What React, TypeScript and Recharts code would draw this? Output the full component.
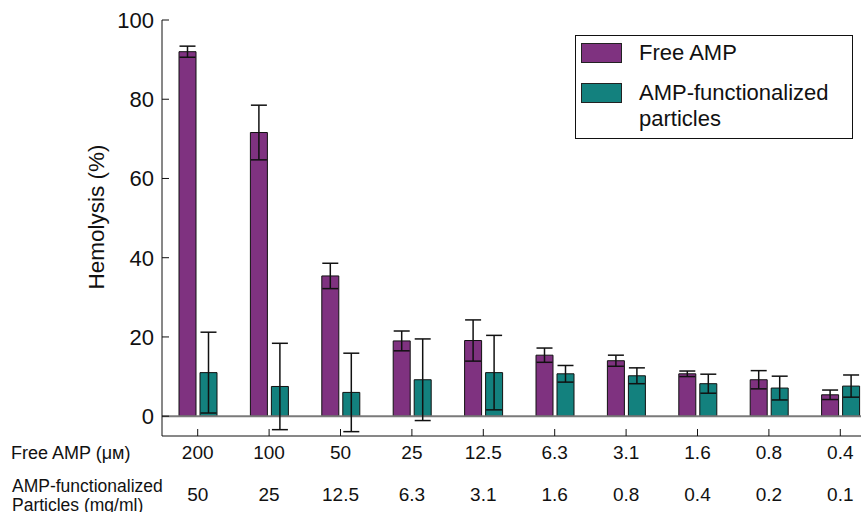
import React from 'react';
import { BarChart, Bar, XAxis, YAxis, ErrorBar, ReferenceLine, Customized } from 'recharts';

const freeAmpLabels = ['200', '100', '50', '25', '12.5', '6.3', '3.1', '1.6', '0.8', '0.4'];
const particleLabels = ['50', '25', '12.5', '6.3', '3.1', '1.6', '0.8', '0.4', '0.2', '0.1'];
const freeAmpValues = [92.0, 71.6, 35.4, 19.0, 19.1, 15.4, 14.0, 10.7, 9.2, 5.4];
const freeAmpErrors = [1.4, 6.9, 3.2, 2.5, 5.2, 1.8, 1.4, 0.7, 2.3, 1.2];
const particleValues = [11.0, 7.5, 6.0, 9.2, 11.0, 10.7, 10.2, 8.2, 7.1, 7.6];
const particleErrors = [10.2, 10.9, 9.9, 10.3, 9.4, 2.1, 2.0, 2.4, 3.0, 2.8];
const yTicks = [0, 20, 40, 60, 80, 100];

const seriesNames = ['Free AMP', 'AMP-functionalized particles'];
const seriesColors = ['#7f3280', '#13817e'];

const data = freeAmpLabels.map((c, i) => ({
  cat: c,
  free: freeAmpValues[i],
  freeErr: freeAmpErrors[i],
  part: particleValues[i],
  partErr: particleErrors[i],
}));

const FONT = '"Liberation Sans", Arial, sans-serif';

const BottomTick = (props: any) => {
  const { x, y, payload } = props;
  const i = payload.index;
  return (
    <g>
      <text x={x} y={y + 30} textAnchor="middle" fontSize={19} fill="#111" fontFamily={FONT}>
        {freeAmpLabels[i]}
      </text>
      <text x={x} y={y + 72} textAnchor="middle" fontSize={19} fill="#111" fontFamily={FONT}>
        {particleLabels[i]}
      </text>
    </g>
  );
};

const Extras = () => (
  <g fontFamily={FONT} fill="#111">
    <text x={11} y={459} fontSize={18}>Free AMP (μм)</text>
    <text x={12} y={492} fontSize={17.5}>AMP-functionalized</text>
    <text x={12} y={511} fontSize={17.5}>Particles (mg/ml)</text>
    <text x={104} y={217} fontSize={22.5} textAnchor="middle" transform="rotate(-90 104 217)">Hemolysis (%)</text>
    <rect x={575.5} y={35.5} width={277} height={103} fill="#fff" stroke="#111" strokeWidth={1} />
    <rect x={581.5} y={43.5} width={40} height={19} fill={seriesColors[0]} stroke="#222" strokeWidth={1} />
    <rect x={581.5} y={83.5} width={40} height={19} fill={seriesColors[1]} stroke="#222" strokeWidth={1} />
    <text x={639} y={60} fontSize={22}>{seriesNames[0]}</text>
    <text x={639} y={100} fontSize={22}>AMP-functionalized</text>
    <text x={639} y={126} fontSize={22}>particles</text>
  </g>
);

export default function App() {
  return (
    <div style={{ position: 'absolute', left: 0, top: 0, width: 861, height: 512, overflow: 'hidden', background: '#fff' }}>
      <BarChart
        width={876}
        height={512}
        data={data}
        margin={{ top: 20, right: 0, bottom: 0, left: 0 }}
        barSize={17}
        barGap={4}
      >
        <XAxis
          dataKey="cat"
          height={76}
          axisLine={{ stroke: '#111', strokeWidth: 1 }}
          tickLine={{ stroke: '#111', strokeWidth: 1 }}
          tickSize={-7}
          tickMargin={0}
          tick={<BottomTick />}
          interval={0}
        />
        <XAxis
          xAxisId="top"
          dataKey="cat"
          orientation="top"
          height={0}
          axisLine={{ stroke: '#111', strokeWidth: 1 }}
          tickLine={{ stroke: '#111', strokeWidth: 1 }}
          tickSize={-7}
          tick={false}
          interval={0}
        />
        <YAxis
          width={162}
          domain={[-5, 100]}
          ticks={yTicks}
          allowDataOverflow
          axisLine={{ stroke: '#111', strokeWidth: 1 }}
          tickLine={{ stroke: '#111', strokeWidth: 1 }}
          tickSize={-7}
          tickMargin={15}
          tick={{ fontSize: 22, fill: '#111', fontFamily: FONT }}
        />
        <ReferenceLine y={0} stroke="#7a7a7a" strokeWidth={2} />
        <Bar dataKey="free" name={seriesNames[0]} fill={seriesColors[0]} stroke="#111" strokeWidth={1} isAnimationActive={false}>
          <ErrorBar dataKey="freeErr" width={8} stroke="#111" strokeWidth={1.5} direction="y" />
        </Bar>
        <Bar dataKey="part" name={seriesNames[1]} fill={seriesColors[1]} stroke="#111" strokeWidth={1} isAnimationActive={false}>
          <ErrorBar dataKey="partErr" width={8} stroke="#111" strokeWidth={1.5} direction="y" />
        </Bar>
        <Customized component={Extras} />
      </BarChart>
    </div>
  );
}
